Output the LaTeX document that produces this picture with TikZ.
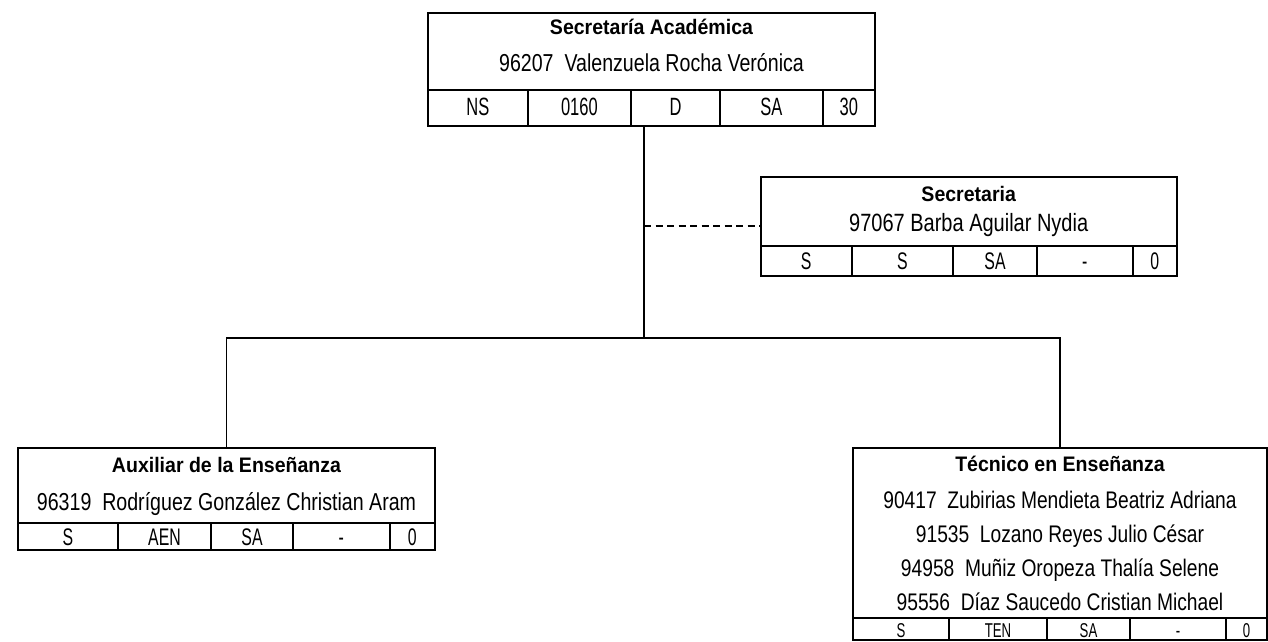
\documentclass[tikz,border=0pt]{standalone}
\usepackage{fontspec}
\setmainfont{Liberation Sans}
\newfontfamily\fuentetitulo{Liberation Sans}[FakeStretch=0.93]
\newfontfamily\fuentenombre{Liberation Sans}[FakeStretch=0.8]
\newfontfamily\fuentecelda{Liberation Sans}[FakeStretch=0.66]
\usetikzlibrary{positioning}

\begin{document}
\begin{tikzpicture}[x=1pt,y=-1pt,
    caja/.style={draw,line width=2pt,inner sep=0pt,outer sep=0pt,anchor=north west},
    celda/.style={draw,line width=2pt,inner sep=0pt,outer sep=0pt,text depth=0pt},
    titulo/.style={inner sep=0pt,anchor=base,font=\fuentetitulo\bfseries\fontsize{21}{25}\selectfont},
    nombre/.style={inner sep=0pt,anchor=base,font=\fuentenombre\fontsize{24.5}{29}\selectfont},
    linea/.style={line width=1.3pt}]
    \useasboundingbox (0,0) rectangle (1268,642);

    % Secretaria Academica
    \node[caja,minimum width=447pt,minimum height=113.3pt] (acad) at (428,12.7) {};
    \node[titulo] (acad-t) at (651.5,34.5) {Secretaría Académica};
    \node[nombre] (acad-n) at (651.5,71.7) {96207\ \ Valenzuela Rocha Verónica};
    \begin{scope}[celda/.append style={minimum height=36pt,text height=14pt,font=\fuentecelda\fontsize{25}{30}\selectfont}]
    \node[celda,minimum width=99.7pt,anchor=south west] (acad-c1) at (acad.south west) {NS};
    \node[celda,minimum width=103.3pt,right=0pt of acad-c1] (acad-c2) {0160};
    \node[celda,minimum width=89pt,right=0pt of acad-c2] (acad-c3) {D};
    \node[celda,minimum width=102.7pt,right=0pt of acad-c3] (acad-c4) {SA};
    \node[celda,minimum width=52.3pt,right=0pt of acad-c4] (acad-c5) {30};
    \end{scope}

    % Secretaria
    \node[caja,minimum width=416pt,minimum height=98.8pt] (secre) at (760.7,176.7) {};
    \node[titulo] (secre-t) at (968.7,201) {Secretaria};
    \node[nombre,font=\fuentenombre\fontsize{25}{29}\selectfont] (secre-n) at (968.7,231.7) {97067 Barba Aguilar Nydia};
    \begin{scope}[celda/.append style={minimum height=30pt,text height=17pt,font=\fuentecelda\fontsize{24}{29}\selectfont}]
    \node[celda,minimum width=91pt,anchor=south west] (secre-c1) at (secre.south west) {S};
    \node[celda,minimum width=101.6pt,right=0pt of secre-c1] (secre-c2) {S};
    \node[celda,minimum width=83.4pt,right=0pt of secre-c2] (secre-c3) {SA};
    \node[celda,minimum width=96.3pt,right=0pt of secre-c3] (secre-c4) {-};
    \node[celda,minimum width=43.7pt,right=0pt of secre-c4] (secre-c5) {0};
    \end{scope}

    % Auxiliar de la Ensenanza
    \node[caja,minimum width=417pt,minimum height=102pt] (aux) at (18,448) {};
    \node[titulo] (aux-t) at (226.5,472.3) {Auxiliar de la Enseñanza};
    \node[nombre] (aux-n) at (226.5,510) {96319\ \ Rodríguez González Christian Aram};
    \begin{scope}[celda/.append style={minimum height=27pt,text height=17pt,font=\fuentecelda\fontsize{24}{29}\selectfont}]
    \node[celda,minimum width=100pt,anchor=south west] (aux-c1) at (aux.south west) {S};
    \node[celda,minimum width=93pt,right=0pt of aux-c1] (aux-c2) {AEN};
    \node[celda,minimum width=82pt,right=0pt of aux-c2] (aux-c3) {SA};
    \node[celda,minimum width=96.5pt,right=0pt of aux-c3] (aux-c4) {-};
    \node[celda,minimum width=45.5pt,right=0pt of aux-c4] (aux-c5) {0};
    \end{scope}

    % Tecnico en Ensenanza
    \node[caja,minimum width=414pt,minimum height=192pt] (tec) at (853,448) {};
    \node[titulo] (tec-t) at (1060,471.7) {Técnico en Enseñanza};
    \foreach \nom [count=\i] in {90417\ \ Zubirias Mendieta Beatriz Adriana,
                                 91535\ \ Lozano Reyes Julio César,
                                 94958\ \ Muñiz Oropeza Thalía Selene,
                                 95556\ \ Díaz Saucedo Cristian Michael}
        \node[nombre,font=\fuentenombre\fontsize{24}{29}\selectfont] (tec-n\i) at (1060,{508.3+34.1*(\i-1)}) {\nom};
    \begin{scope}[celda/.append style={minimum height=22pt,text height=16pt,font=\fuentecelda\fontsize{20}{24}\selectfont}]
    \node[celda,minimum width=96pt,anchor=south west] (tec-c1) at (tec.south west) {S};
    \node[celda,minimum width=98pt,right=0pt of tec-c1] (tec-c2) {TEN};
    \node[celda,minimum width=83pt,right=0pt of tec-c2] (tec-c3) {SA};
    \node[celda,minimum width=96pt,right=0pt of tec-c3] (tec-c4) {-};
    \node[celda,minimum width=41pt,right=0pt of tec-c4] (tec-c5) {0};
    \end{scope}

    % lineas
    \coordinate (ramal) at (644,338);
    \draw[linea] (acad.south -| ramal) -- (ramal);
    \draw[linea] (aux.north) |- (ramal) -| (tec.north);
    \draw[linea,dash pattern=on 7pt off 4.5pt] (secre.west -| ramal) -- (secre.west);
\end{tikzpicture}
\end{document}
